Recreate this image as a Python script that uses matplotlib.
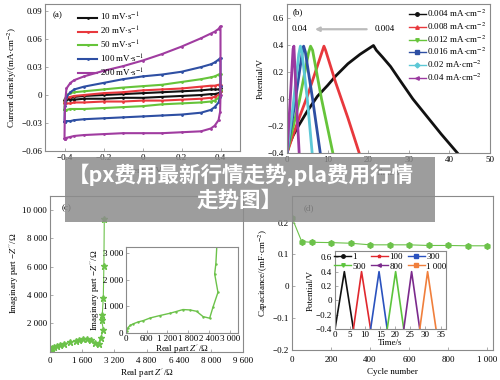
import matplotlib
matplotlib.use("Agg")
import matplotlib.pyplot as plt
from matplotlib.patches import Rectangle

plt.rcParams['font.family'] = ['Liberation Serif', 'DejaVu Serif']
plt.rcParams['mathtext.fontset'] = 'stix'
plt.rcParams['axes.unicode_minus'] = True

# ---- (a) CV curves
cv_up = [-0.4, -0.398, -0.39, -0.37, -0.35, -0.3, -0.2, -0.1, 0, 0.1, 0.2, 0.3, 0.35, 0.37, 0.39, 0.4]
cv_down = [0.4, 0.398, 0.39, 0.37, 0.35, 0.3, 0.2, 0.1, 0, -0.1, -0.2, -0.3, -0.35, -0.37, -0.39, -0.4]
cv_labels = ['10', '20', '50', '100', '200']
cv_colors = ['#111111', '#e8383d', '#66c43a', '#2e4fa3', '#a03ca0']
cv_i_up = [
    [-0.006, -0.004, -0.003, -0.003, -0.002, -0.001, 0.000, 0.001, 0.002, 0.003, 0.004, 0.005, 0.006, 0.006, 0.006, 0.007],
    [-0.009, -0.005, -0.003, -0.002, -0.001, 0.000, 0.002, 0.003, 0.005, 0.006, 0.007, 0.009, 0.010, 0.010, 0.011, 0.011],
    [-0.016, -0.006, 0.000, 0.002, 0.003, 0.004, 0.006, 0.008, 0.0095, 0.011, 0.014, 0.017, 0.019, 0.020, 0.022, 0.023],
    [-0.029, -0.012, -0.002, 0.003, 0.006, 0.009, 0.013, 0.017, 0.020, 0.022, 0.025, 0.030, 0.033, 0.035, 0.038, 0.040],
    [-0.047, -0.010, 0.007, 0.013, 0.016, 0.020, 0.026, 0.031, 0.037, 0.044, 0.052, 0.061, 0.066, 0.068, 0.071, 0.074],
]
cv_i_down = [
    [0.004, 0.003, 0.002, 0.001, 0.001, 0.000, -0.001, -0.002, -0.003, -0.003, -0.004, -0.004, -0.005, -0.005, -0.005, -0.006],
    [0.004, 0.002, 0.000, -0.002, -0.003, -0.004, -0.005, -0.006, -0.006, -0.007, -0.007, -0.008, -0.008, -0.009, -0.009, -0.009],
    [0.005, 0.000, -0.003, -0.006, -0.007, -0.008, -0.009, -0.010, -0.012, -0.013, -0.014, -0.015, -0.015, -0.015, -0.016, -0.016],
    [0.010, -0.002, -0.008, -0.013, -0.016, -0.019, -0.021, -0.022, -0.023, -0.024, -0.025, -0.026, -0.027, -0.028, -0.028, -0.029],
    [0.000, -0.018, -0.027, -0.033, -0.036, -0.039, -0.040, -0.041, -0.041, -0.041, -0.042, -0.043, -0.044, -0.045, -0.046, -0.047],
]
a_yticks = [-0.06, -0.03, 0, 0.03, 0.06, 0.09]
a_yticklabels = ['\u22120.06', '\u22120.03', '0', '0.03', '0.06', '0.09']
a_xticks = [-0.4, -0.2, 0, 0.2, 0.4]
a_xticklabels = ['\u22120.4', '\u22120.2', '0', '0.2', '0.4']

# ---- (b) charge / discharge
gcd_labels = ['0.004', '0.008', '0.012', '0.016', '0.02', '0.04']
gcd_colors = ['#111111', '#e8383d', '#66c43a', '#2e4fa3', '#5cc8d6', '#9b3aa0']
gcd_markers = ['o', '^', 'v', 's', 'D', '<']
gcd_t = [
    [0, 0.5, 1.5, 3, 5, 7.5, 10, 12, 15, 18, 21.3, 22, 23.5, 25.5, 28, 31, 34.5, 38, 42],
    [0, 1, 3, 5, 7, 9.1, 9.5, 12, 15, 17.8],
    [0, 1, 3, 5.3, 5.8, 6.3, 8.5, 11.3],
    [0, 2, 3.7, 4.1, 4.5, 6.3, 8.2],
    [0, 1.5, 2.9, 3.3, 3.7, 5, 6.2],
    [0, 0.8, 1.5, 1.7, 2.3, 3.0],
]
gcd_v = [
    [-0.4, -0.34, -0.27, -0.19, -0.09, 0.02, 0.10, 0.17, 0.26, 0.33, 0.395, 0.36, 0.31, 0.24, 0.13, 0.0, -0.13, -0.26, -0.4],
    [-0.4, -0.31, -0.14, 0.02, 0.2, 0.39, 0.36, 0.12, -0.14, -0.4],
    [-0.4, -0.27, -0.02, 0.34, 0.39, 0.36, 0.0, -0.4],
    [-0.4, -0.02, 0.33, 0.39, 0.35, 0.0, -0.4],
    [-0.4, -0.05, 0.33, 0.39, 0.34, 0.0, -0.4],
    [-0.4, 0.0, 0.37, 0.39, 0.0, -0.4],
]
b_yticks = [-0.4, -0.2, 0, 0.2, 0.4, 0.6]
b_yticklabels = ['\u22120.4', '\u22120.2', '0', '0.2', '0.4', '0.6']
b_xticks = [0, 10, 20, 30, 40, 50]

# ---- (c) impedance
eis_re = [0, 20, 60, 120, 210, 350, 500, 700, 980, 1270, 1450, 1650, 1850, 2040, 2230, 2420, 2515, 2660, 2565, 2600, 2650, 2680, 2700]
eis_im = [0, 86, 200, 280, 340, 410, 460, 560, 650, 735, 800, 875, 860, 810, 610, 550, 960, 1520, 2210, 2600, 3790, 6020, 9410]
c_xticks = [0, 1600, 3200, 4800, 6400, 8000, 9600]
c_xticklabels = ['0', '1 600', '3 200', '4 800', '6 400', '8 000', '9 600']
c_yticks = [2000, 4000, 6000, 8000, 10000]
c_yticklabels = ['2 000', '4 000', '6 000', '8 000', '10 000']
ci_xticks = [0, 600, 1200, 1800, 2400, 3000]
ci_xticklabels = ['0', '600', '1 200', '1 800', '2 400', '3 000']
ci_yticks = [0, 1000, 2000, 3000]
ci_yticklabels = ['0', '1 000', '2 000', '3 000']

# ---- (d) cycling
cycles = [0, 50, 100, 200, 300, 400, 500, 600, 700, 800, 900, 1000]
capacitance = [0.215, 0.14, 0.138, 0.137, 0.135, 0.13, 0.13, 0.13, 0.128, 0.128, 0.127, 0.127]
d_yticks = [-0.2, -0.1, 0, 0.1, 0.2]
d_yticklabels = ['\u22120.2', '\u22120.1', '0', '0.1', '0.2']
d_xticks = [0, 200, 400, 600, 800, 1000]
d_xticklabels = ['0', '200', '400', '600', '800', '1 000']
cyc_labels = ['1', '100', '300', '500', '800', '1 000']
cyc_colors = ['#111111', '#e0282e', '#2a52be', '#5cc43c', '#7b2a8c', '#f07f3c']
cyc_markers = ['o', '*', 's', 'v', '<', 's']
cyc_t = [[0, 3.1, 6.1], [6.1, 8.8, 11.8], [11.8, 14.6, 17.3], [17.3, 20.1, 22.8], [22.8, 25.4, 28.1], [28.1, 30.7, 33.5]]
cyc_v = [-0.4, 0.4, -0.4]
di_yticks = [-0.4, -0.2, 0, 0.2, 0.4, 0.6]
di_yticklabels = ['\u22120.4', '\u22120.2', '0', '0.2', '0.4', '0.6']
di_xticks = [0, 5, 10, 15, 20, 25, 30, 35]

FS = 6.5
GRAY = '#8a8a8a'
GREEN = '#6cc24a'


def style(ax, fs=FS, xpad=2):
    for s in ax.spines.values():
        s.set_color(GRAY)
        s.set_linewidth(0.8)
    ax.tick_params(direction='in', length=2, width=0.5, color=GRAY, labelsize=fs, pad=2)
    ax.tick_params(axis='x', pad=xpad)


fig = plt.figure(figsize=(5, 3.8), dpi=100)

# (a)
ax = fig.add_axes([0.09, 0.603, 0.39, 0.387])
for k in range(len(cv_labels)):
    xs = cv_up + cv_down + cv_up[:1]
    ys = cv_i_up[k] + cv_i_down[k] + cv_i_up[k][:1]
    ax.plot(xs, ys, color=cv_colors[k], lw=1.5, marker='.', ms=2,
            label=cv_labels[k] + r' mV$\cdot$s$^{-1}$')
ax.set_xlim(-0.5, 0.5)
ax.set_ylim(-0.06, 0.098)
ax.set_yticks(a_yticks)
ax.set_yticklabels(a_yticklabels)
ax.set_xticks(a_xticks)
ax.set_xticklabels(a_xticklabels)
ax.set_ylabel(r'Current density/(mA$\cdot$cm$^{-2}$)', fontsize=FS, labelpad=2)
ax.set_xlabel('Potential/V', fontsize=FS)
ax.text(0.04, 0.95, '(a)', transform=ax.transAxes, fontsize=FS, va='top')
ax.legend(loc='upper left', bbox_to_anchor=(0.13, 1.0), frameon=False, fontsize=FS,
          handlelength=2.2, labelspacing=0.2, borderpad=0.3, handletextpad=0.3)
style(ax)

# (b)
ax = fig.add_axes([0.574, 0.597, 0.406, 0.392])
for k in range(len(gcd_labels)):
    ax.plot(gcd_t[k], gcd_v[k], color=gcd_colors[k], lw=2)
    ax.plot([], [], color=gcd_colors[k], lw=1, marker=gcd_markers[k], ms=2.5,
            label=gcd_labels[k] + r' mA$\cdot$cm$^{-2}$')
ax.annotate('', xy=(6.2, 0.515), xytext=(20.3, 0.515),
            arrowprops=dict(arrowstyle='-|>', color='#bbbbbb', lw=1.6, mutation_scale=6))
ax.text(3.0, 0.515, '0.04', fontsize=FS, va='center', ha='center')
ax.text(21.5, 0.515, '0.004', fontsize=FS, va='center', ha='left')
ax.set_xlim(0, 50)
ax.set_ylim(-0.4, 0.7)
ax.set_yticks(b_yticks)
ax.set_yticklabels(b_yticklabels)
ax.set_xticks(b_xticks)
ax.set_ylabel('Potential/V', fontsize=FS, labelpad=2)
ax.set_xlabel('Time/s', fontsize=FS)
ax.text(0.03, 0.97, '(b)', transform=ax.transAxes, fontsize=FS, va='top')
ax.legend(loc='upper right', frameon=False, fontsize=FS, handlelength=1.8,
          labelspacing=0.15, borderpad=0.2, handletextpad=0.2, borderaxespad=0.2)
style(ax)

# (c)
ax = fig.add_axes([0.10, 0.075, 0.386, 0.409])
ax.plot(eis_re, eis_im, color=GREEN, lw=0.8, marker='*', ms=4.5)
ax.set_xlim(0, 9600)
ax.set_ylim(0, 11000)
ax.set_xticks(c_xticks)
ax.set_xticklabels(c_xticklabels)
ax.set_yticks(c_yticks)
ax.set_yticklabels(c_yticklabels)
ax.set_xlabel("Real part $Z'$/\u03a9", fontsize=FS, labelpad=1)
ax.set_ylabel("Imaginary part \u2212$Z''$/\u03a9", fontsize=FS, labelpad=1)
ax.text(0.06, 0.95, '(c)', transform=ax.transAxes, fontsize=FS, va='top')
style(ax, xpad=4)

axi = fig.add_axes([0.252, 0.124, 0.224, 0.226])
axi.plot(eis_re, eis_im, color=GREEN, lw=1, marker='.', ms=1.5)
axi.set_xlim(0, 3240)
axi.set_ylim(0, 3220)
axi.set_xticks(ci_xticks)
axi.set_xticklabels(ci_xticklabels)
axi.set_yticks(ci_yticks)
axi.set_yticklabels(ci_yticklabels)
axi.set_xlabel("Real part $Z'$/\u03a9", fontsize=FS, labelpad=0)
axi.set_ylabel("Imaginary part \u2212$Z''$/\u03a9", fontsize=FS, labelpad=1)
style(axi, xpad=1.5)

# (d)
ax = fig.add_axes([0.584, 0.079, 0.402, 0.405])
ax.plot(cycles, capacitance, color=GREEN, lw=0.8, marker='h', ms=4)
ax.set_xlim(0, 1030)
ax.set_ylim(-0.2, 0.283)
ax.set_xticks(d_xticks)
ax.set_xticklabels(d_xticklabels)
ax.set_yticks(d_yticks)
ax.set_yticklabels(d_yticklabels)
ax.set_xlabel('Cycle number', fontsize=FS, labelpad=3)
ax.set_ylabel(r'Capacitance/(mF$\cdot$cm$^{-2}$)', fontsize=FS, labelpad=2)
ax.text(0.06, 0.95, '(d)', transform=ax.transAxes, fontsize=FS, va='top')
style(ax, xpad=4)

axi = fig.add_axes([0.67, 0.134, 0.222, 0.205])
handles = []
for k in range(len(cyc_labels)):
    axi.plot(cyc_t[k], cyc_v, color=cyc_colors[k], lw=1.2)
    h, = axi.plot([], [], color=cyc_colors[k], lw=1, marker=cyc_markers[k], ms=2.5, label=cyc_labels[k])
    handles.append(h)
axi.set_xlim(0, 36.8)
axi.set_ylim(-0.4, 0.685)
axi.set_xticks(di_xticks)
axi.set_yticks(di_yticks)
axi.set_yticklabels(di_yticklabels)
axi.set_xlabel('Time/s', fontsize=FS, labelpad=0)
axi.set_ylabel('Potential/V', fontsize=FS, labelpad=1)
# row-major order for a 3-column legend
order = [0, 3, 1, 4, 2, 5]
axi.legend([handles[i] for i in order], [cyc_labels[i] for i in order],
           loc='upper center', ncol=3, frameon=False, fontsize=FS, handlelength=1.8,
           columnspacing=0.6, labelspacing=0.1, borderpad=0.1, handletextpad=0.2, borderaxespad=0.1)
style(axi, xpad=1.5)

# watermark banner
fig.patches.append(Rectangle((0.13, 0.416), 0.74, 0.171, transform=fig.transFigure,
                             facecolor='#8c8c8c', alpha=0.85, edgecolor='none', zorder=10))
fig.text(0.482, 0.54, '\u3010px费用最新行情走势,pla费用行情', color='white', fontsize=15.5,
         fontweight='bold', ha='center', va='center', zorder=11,
         family=['Noto Sans CJK SC', 'DejaVu Sans'])
fig.text(0.48, 0.473, '走势图\u3011', color='white', fontsize=15.5,
         fontweight='bold', ha='center', va='center', zorder=11,
         family=['Noto Sans CJK SC', 'DejaVu Sans'])

fig.savefig('out.png', dpi=100)
